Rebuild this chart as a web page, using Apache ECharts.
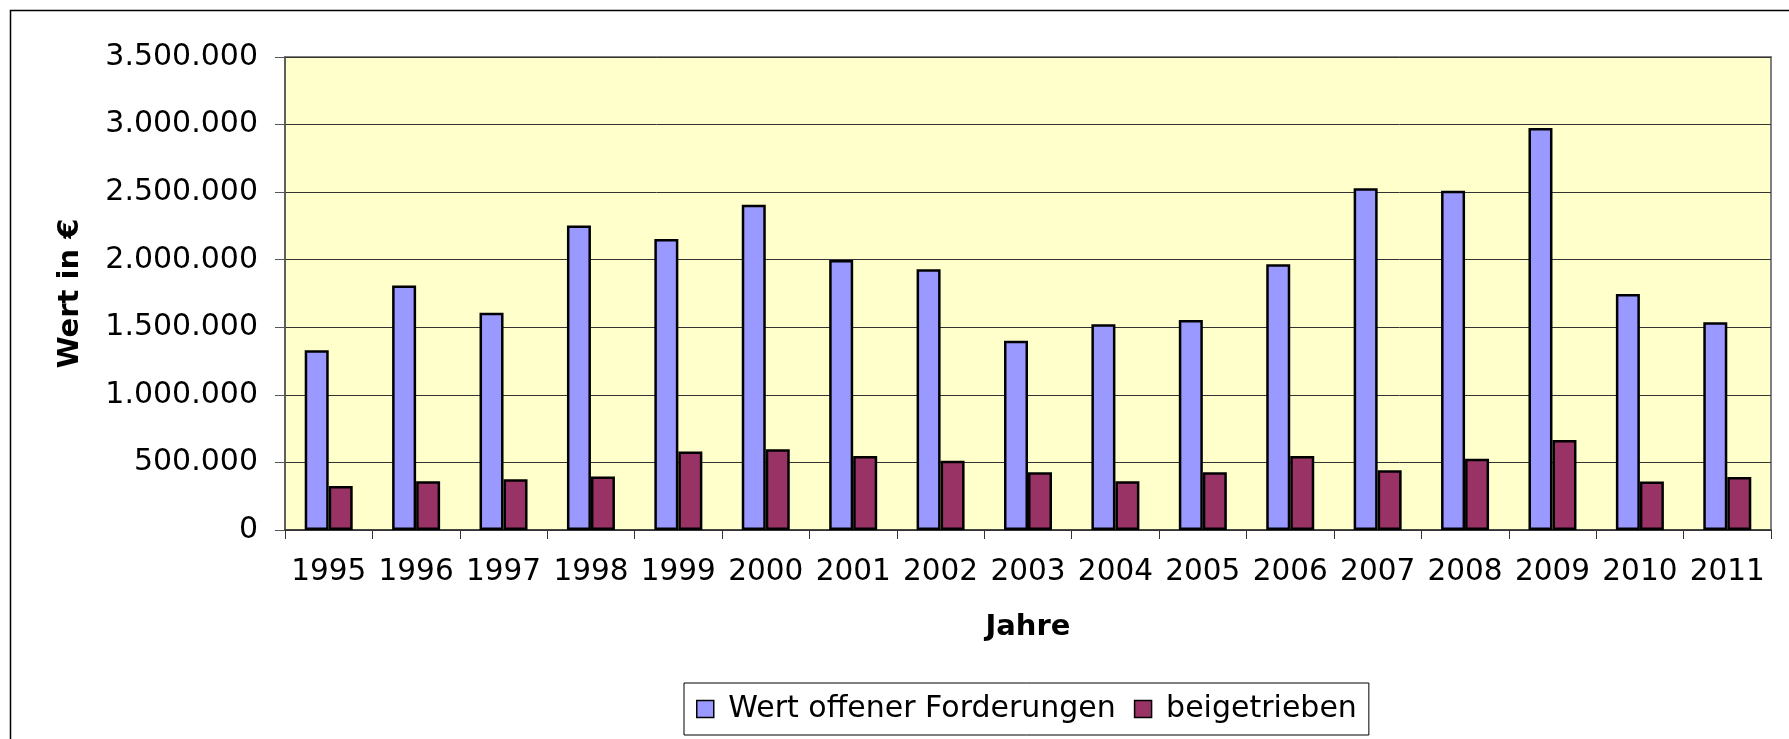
<!DOCTYPE html>
<html>
<head>
<meta charset="utf-8">
<script src="https://cdn.jsdelivr.net/npm/echarts@6/dist/echarts.min.js"></script>
<style>
html,body{margin:0;padding:0;background:#fff;}
#c{width:1789px;height:739px;}
</style>
</head>
<body>
<div id="c"></div>
<script>
const years = ['1995','1996','1997','1998','1999','2000','2001','2002','2003','2004','2005','2006','2007','2008','2009','2010','2011'];
const offeneForderungen = [1330000,1810000,1608000,2254000,2153000,2407000,1998000,1929000,1401000,1522000,1554000,1966000,2528000,2511000,2974000,1746000,1537000];
const beigetrieben = [325000,360000,375000,395000,580000,597000,548000,513000,427000,360000,427000,548000,442000,528000,666000,358000,392000];
const seriesNames = ['Wert offener Forderungen','beigetrieben'];
const yTicks = [0,500000,1000000,1500000,2000000,2500000,3000000,3500000];

const FONT = 'DejaVu Sans';
function fmt(v){ return String(v).replace(/\B(?=(\d{3})+(?!\d))/g,'.'); }

const chart = echarts.init(document.getElementById('c'), null, {renderer:'canvas'});
chart.setOption({
  animation:false,
  backgroundColor:'#ffffff',
  graphic:[{
    type:'rect', left:8, top:8, z:-10,
    shape:{x:0,y:0,width:1820,height:780},
    style:{fill:'none', stroke:'#000', lineWidth:1.5}
  }],
  grid:{left:285, right:18, top:57, bottom:209, show:true, backgroundColor:'#FFFFCC', borderColor:'#808080', borderWidth:2},
  legend:{
    data:seriesNames, left:684, top:683, orient:'horizontal',
    borderColor:'#000', borderWidth:1, padding:[11,12,11,12],
    itemWidth:17, itemHeight:17, itemGap:18,
    icon:'rect',
    itemStyle:{borderColor:'#000', borderWidth:1.5},
    formatter:function(n){ return ' ' + n; },
    textStyle:{fontFamily:FONT, fontSize:30, color:'#000'}
  },
  xAxis:{
    type:'category', data:years,
    name:'Jahre', nameLocation:'middle', nameGap:83,
    nameTextStyle:{fontFamily:FONT, fontSize:29, fontWeight:'bold', color:'#000'},
    axisLine:{lineStyle:{color:'#333', width:1.5}},
    axisTick:{show:true, length:9, lineStyle:{color:'#333'}},
    axisLabel:{interval:0, margin:27, fontFamily:FONT, fontSize:29.5, color:'#000'}
  },
  yAxis:{
    type:'value', min:0, max:3500000, interval:500000,
    name:'Wert in €', nameLocation:'middle', nameGap:200, nameRotate:90,
    nameTextStyle:{fontFamily:FONT, fontSize:29, fontWeight:'bold', color:'#000'},
    axisLine:{show:true, lineStyle:{color:'#555', width:1.5}},
    axisTick:{show:true, length:10, lineStyle:{color:'#555'}},
    axisLabel:{margin:27, fontFamily:FONT, fontSize:30, color:'#000',
      formatter:function(v){ return yTicks.indexOf(v)>=0 ? fmt(v) : ''; }},
    splitLine:{show:true, lineStyle:{color:'#333', width:1}}
  },
  series:[
    {name:seriesNames[0], type:'bar', data:offeneForderungen, barWidth:24, barGap:'0%',
     itemStyle:{color:'#9999FF', borderColor:'#000', borderWidth:2.5}},
    {name:seriesNames[1], type:'bar', data:beigetrieben, barWidth:24, barGap:'0%',
     itemStyle:{color:'#993366', borderColor:'#000', borderWidth:2.5}}
  ]
});
</script>
</body>
</html>
